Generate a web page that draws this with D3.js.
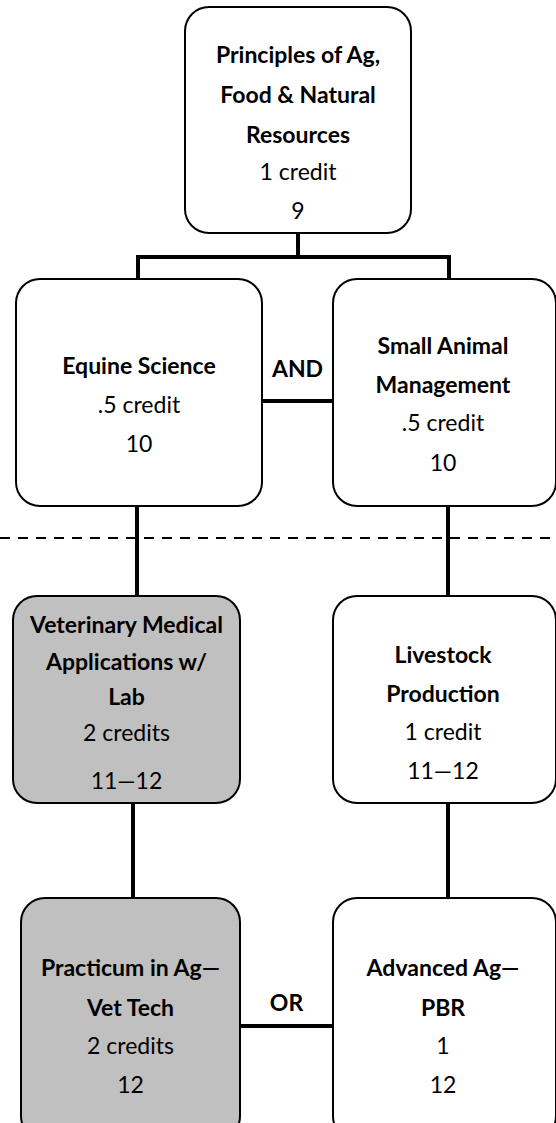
<!DOCTYPE html>
<html>
<head>
<meta charset="utf-8">
<script src="https://cdn.jsdelivr.net/npm/d3@7"></script>
<style>
  html, body { margin: 0; padding: 0; background: #fff; }
  svg { display: block; }
  text { font-family: Lato, "Open Sans", sans-serif; fill: #000; }
</style>
</head>
<body>
<svg id="chart" width="556" height="1123"></svg>
<script>
/*************************************************
    Data:
 *************************************************/
var courseIds = ["pafnr", "equine", "smallAnimal", "vetMed", "livestock", "practicum", "advAg"];
var courseTitles = [
    ["Principles of Ag,", "Food & Natural", "Resources"],
    ["Equine Science"],
    ["Small Animal", "Management"],
    ["Veterinary Medical", "Applications w/", "Lab"],
    ["Livestock", "Production"],
    ["Practicum in Ag\u2014", "Vet Tech"],
    ["Advanced Ag\u2014", "PBR"]
];
var courseCredits = ["1 credit", ".5 credit", ".5 credit", "2 credits", "1 credit", "2 credits", "1"];
var courseGrades = ["9", "10", "10", "11\u201412", "11\u201412", "12", "12"];
var courseShaded = [false, false, false, true, false, true, false];

// prerequisite links [from, to]
var prereqLinks = [["pafnr", "equine"], ["pafnr", "smallAnimal"], ["equine", "vetMed"],
                   ["smallAnimal", "livestock"], ["vetMed", "practicum"], ["livestock", "advAg"]];
// side-by-side choices [left, right, label]
var choiceLinks = [["equine", "smallAnimal", "AND"], ["practicum", "advAg", "OR"]];

/*************************************************
    Layout:
 *************************************************/
var width = 556, height = 1123;
var boxLayout = {
    pafnr:       {x0: 185, x1: 411, y0: 7,   y1: 233, inX: 298, outX: 298, lines: [63, 103, 143, 180, 219]},
    equine:      {x0: 16,  x1: 262, y0: 279, y1: 506, inX: 138, outX: 137, lines: [374, 413, 452]},
    smallAnimal: {x0: 333, x1: 556, y0: 279, y1: 506, inX: 449, outX: 448, lines: [354, 393, 431, 471]},
    vetMed:      {x0: 13,  x1: 240, y0: 596, y1: 803, inX: 137, outX: 133, lines: [633, 670, 705, 741, 789]},
    livestock:   {x0: 333, x1: 556, y0: 596, y1: 803, inX: 448, outX: 448, lines: [663, 702, 740, 779]},
    practicum:   {x0: 21,  x1: 240, y0: 898, y1: 1140, inX: 133, outX: 133, lines: [976, 1016, 1054, 1093]},
    advAg:       {x0: 333, x1: 556, y0: 898, y1: 1140, inX: 448, outX: 448, lines: [976, 1016, 1054, 1093]}
};
var choiceLayout = {AND: {y: 401, labelY: 377}, OR: {y: 1026, labelY: 1011}};
var busY = 257;      // horizontal bar under the first course
var cutY = 538;      // dashed divider
var corner = 24;
var fontSize = 23;

var svg = d3.select("#chart");

var courses = courseIds.map(function(id, i) {
    return {
        id: id,
        lines: courseTitles[i].map(function(t) { return {t: t, bold: true}; })
            .concat([{t: courseCredits[i], bold: false}, {t: courseGrades[i], bold: false}]),
        shaded: courseShaded[i],
        box: boxLayout[id]
    };
});
var byId = d3.index(courses, function(d) { return d.id; });

/*************************************************
    Connectors:
 *************************************************/
var links = svg.append("g").attr("class", "links")
    .attr("stroke", "#000").attr("stroke-width", 4).attr("fill", "none");

var line = d3.line();
prereqLinks.forEach(function(l) {
    var a = byId.get(l[0]).box, b = byId.get(l[1]).box;
    var pts;
    if (l[0] === "pafnr") {
        pts = [[a.outX, a.y1], [a.outX, busY], [b.inX, busY], [b.inX, b.y0]];
    } else {
        pts = [[a.outX, a.y1], [b.inX, b.y0]];
    }
    links.append("path").attr("d", line(pts));
});

choiceLinks.forEach(function(c) {
    var a = byId.get(c[0]).box, b = byId.get(c[1]).box;
    var pos = choiceLayout[c[2]];
    links.append("line")
        .attr("x1", a.x1).attr("x2", b.x0)
        .attr("y1", pos.y).attr("y2", pos.y);
    svg.append("text")
        .attr("x", (a.x1 + b.x0) / 2)
        .attr("y", pos.labelY)
        .attr("text-anchor", "middle")
        .attr("font-size", fontSize).attr("font-weight", "bold")
        .text(c[2]);
});

svg.append("line")
    .attr("x1", 0).attr("x2", width)
    .attr("y1", cutY).attr("y2", cutY)
    .attr("stroke", "#000").attr("stroke-width", 2)
    .attr("stroke-dasharray", "10,8");

/*************************************************
    Boxes:
 *************************************************/
var nodes = svg.selectAll("g.course")
    .data(courses)
    .enter().append("g")
    .attr("class", "course");

nodes.append("rect")
    .attr("x", function(d) { return d.box.x0; })
    .attr("y", function(d) { return d.box.y0; })
    .attr("width", function(d) { return d.box.x1 - d.box.x0; })
    .attr("height", function(d) { return d.box.y1 - d.box.y0; })
    .attr("rx", corner).attr("ry", corner)
    .attr("fill", function(d) { return d.shaded ? "#c0c0c0" : "#fff"; })
    .attr("stroke", "#000").attr("stroke-width", 2);

nodes.each(function(d) {
    var cx = (d.box.x0 + Math.min(d.box.x1, 553)) / 2;
    d3.select(this).selectAll("text")
        .data(d.lines)
        .enter().append("text")
        .attr("x", cx)
        .attr("y", function(l, i) { return d.box.lines[i]; })
        .attr("text-anchor", "middle")
        .attr("font-size", fontSize)
        .attr("font-weight", function(l) { return l.bold ? "bold" : "normal"; })
        .text(function(l) { return l.t; });
});
</script>
</body>
</html>
